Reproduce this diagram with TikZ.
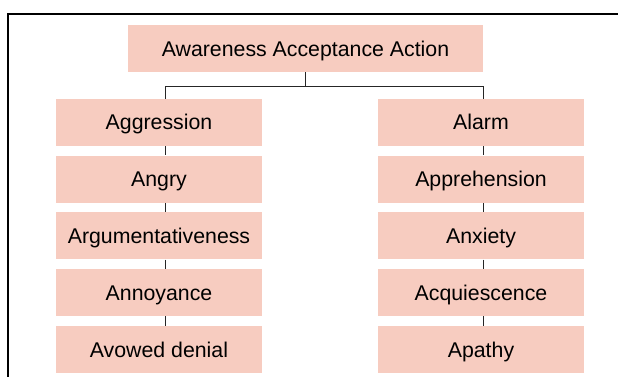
\documentclass[tikz,border=0pt]{standalone}
\usepackage{fontspec}
\setmainfont{Liberation Sans}
\usetikzlibrary{positioning}
\definecolor{peach}{RGB}{247, 204, 192}

\begin{document}
\begin{tikzpicture}[x=1pt, y=-1pt,
    box/.style={fill=peach, minimum height=47pt, minimum width=206pt, inner sep=0pt,
        text height=15.2pt, text depth=0pt, font=\fontsize{21.3}{25}\selectfont},
    link/.style={draw=black!85, line width=1pt}]
    \useasboundingbox (0,0) rectangle (618,377);
    \draw[line width=1.2pt] (8,377) -- (8,14) -- (618,14);
    \node[box, minimum width=355pt] (top) at (305.5,48.5) {Awareness Acceptance Action};
    % two columns of boxes
    \foreach \lab [count=\i from 0] in {Aggression, Angry, Argumentativeness, Annoyance, Avowed denial}
        \node[box] (l\i) at (159,{122.3+56.8*\i}) {\lab};
    \foreach \lab [count=\i from 0] in {Alarm, Apprehension, Anxiety, Acquiescence, Apathy}
        \node[box] (r\i) at (481,{122.3+56.8*\i}) {\lab};
    \draw[link] (top.south) -- ++(0,14.3) -| ([xshift=6pt]l0.north);
    \draw[link] (top.south) -- ++(0,14.3) -| ([xshift=2pt]r0.north);
    \foreach \i [evaluate=\i as \j using int(\i+1)] in {0,...,3} {
        \draw[link] ([xshift=6pt]l\i.south) -- ([xshift=6pt]l\j.north);
        \draw[link] ([xshift=2pt]r\i.south) -- ([xshift=2pt]r\j.north);
    }
\end{tikzpicture}
\end{document}
